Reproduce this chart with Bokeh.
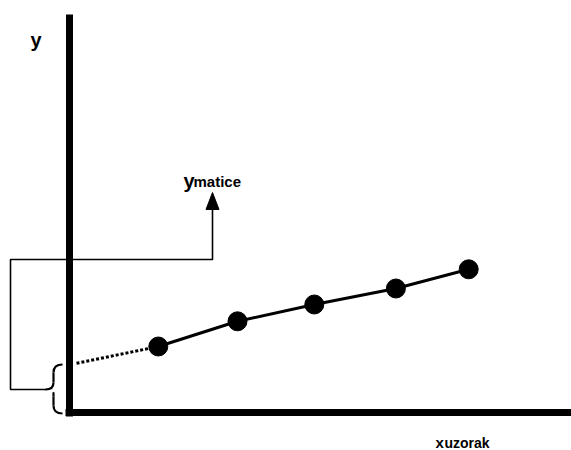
import numpy as np
from bokeh.plotting import figure
from bokeh.models import Range1d
from bokeh.core.properties import value
from bokeh.embed import file_html
from bokeh.resources import INLINE

# ---- data (arbitrary units) ----
x_added = [1.11, 2.10, 3.06, 4.08, 4.99]      # added standard (x uzorak)
signal = [0.825, 1.14, 1.35, 1.55, 1.79]       # measured signal (y)
y_label = "y"
x_label_main, x_label_sub = "x", "uzorak"
matrix_label_main, matrix_label_sub = "y", "matice"

# ---- layout helpers (picture pixels -> data units) ----
S = 80.0            # pixels per data unit
OX, OY = 69, 412    # picture position of the origin


def X(px):
    return (px - OX) / S


def Y(py):
    return (OY - py) / S


W, H = 571, 450
p = figure(width=W, height=H, output_backend="svg", toolbar_location=None,
           x_axis_type=None, y_axis_type=None, min_border=0,
           x_range=Range1d(X(0), X(W)), y_range=Range1d(Y(H), Y(0)),
           outline_line_color=None, background_fill_color="white",
           border_fill_color="white")

# axes drawn as thick lines
p.line([0, 0], [Y(416), Y(14)], line_width=7, line_color="black", line_cap="butt")
p.line([X(65), X(600)], [0, 0], line_width=7, line_color="black", line_cap="butt")

# regression / extrapolation
slope, intercept = np.polyfit(x_added, signal, 1)
x0 = X(76)
p.line([x0, x_added[0]], [intercept + slope * x0, signal[0]], line_width=3,
       line_color="black", line_dash="3 2")
p.line(x_added, signal, line_width=3, line_color="black")
p.scatter(x_added, signal, size=19, color="black")

# brace "{" on the y axis
bx, tip = 53, 45
p.quadratic(x0=[X(62), X(bx), X(bx), X(bx)], y0=[Y(364), Y(382), Y(396), Y(405)],
            x1=[X(bx), X(tip), X(bx), X(62)], y1=[Y(372), Y(389), Y(389 + 7), Y(413)],
            cx=[X(bx), X(bx), X(bx), X(bx)], cy=[Y(364), Y(389), Y(389), Y(413)],
            line_width=2.2, line_color="black")
p.line([X(bx), X(bx)], [Y(372), Y(382)], line_width=2.2, line_color="black")
p.line([X(bx), X(bx)], [Y(396), Y(405)], line_width=2.2, line_color="black")

# connector with arrow
p.line([X(46), X(10), X(10), X(212), X(212)],
       [Y(389), Y(389), Y(259), Y(259), Y(208)], line_width=1.6, line_color="black")
p.patch([X(205.5), X(212), X(218.5)], [Y(209), Y(192), Y(209)], color="black")

# texts
font = value("Liberation Sans")
p.text(x=[X(30)], y=[Y(39)], text=[y_label], text_font=font, text_font_style="bold",
       text_font_size="20px", text_baseline="alphabetic", text_align="left")
p.text(x=[X(183)], y=[Y(180.5)], text=[matrix_label_main], text_font=font,
       text_font_style="bold", text_font_size="20px", text_baseline="alphabetic",
       text_align="left")
p.text(x=[X(193)], y=[Y(180.5)], text=[matrix_label_sub], text_font=font,
       text_font_style="bold", text_font_size="15px", text_baseline="alphabetic",
       text_align="left")
p.text(x=[X(435)], y=[Y(442)], text=[x_label_main], text_font=font,
       text_font_style="bold", text_font_size="15px", text_baseline="alphabetic",
       text_align="left")
p.text(x=[X(444)], y=[Y(442)], text=[x_label_sub], text_font=font,
       text_font_style="bold", text_font_size="14px", text_baseline="alphabetic",
       text_align="left")

open("out.html", "w").write(file_html(p, INLINE))
